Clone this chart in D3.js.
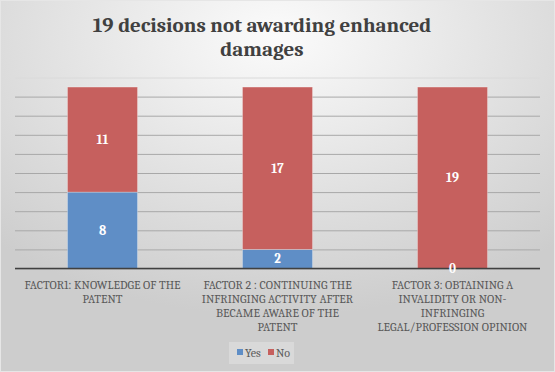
<!DOCTYPE html>
<html>
<head>
<meta charset="utf-8">
<script src="https://cdn.jsdelivr.net/npm/d3@7"></script>
<style>
  body { margin: 0; }
  svg { display: block; }
</style>
</head>
<body>
<div id="chart"></div>
<script>
// chart data
var categories = ["FACTOR1: KNOWLEDGE OF THE\nPATENT",
  "FACTOR 2 : CONTINUING THE\nINFRINGING ACTIVITY AFTER\nBECAME AWARE OF THE\nPATENT",
  "FACTOR 3: OBTAINING A\nINVALIDITY OR NON-\nINFRINGING\nLEGAL/PROFESSION OPINION"];
var yesValues = [8, 2, 0];
var noValues = [11, 17, 19];
var seriesNames = ["Yes", "No"];
var yTicks = [0, 2, 4, 6, 8, 10, 12, 14, 16, 18, 20];
var title = ["19 decisions not awarding enhanced", "damages"];

var W = 555, H = 372;
var svg = d3.select("#chart").append("svg").attr("width", W).attr("height", H);

var defs = svg.append("defs");
var grad = defs.append("radialGradient").attr("id", "bg")
  .attr("cx", "50%").attr("cy", "10%").attr("r", "75%");
grad.append("stop").attr("offset", "0%").attr("stop-color", "#fbfbfb");
grad.append("stop").attr("offset", "100%").attr("stop-color", "#cdcdcd");
svg.append("rect").attr("width", W).attr("height", H).attr("fill", "url(#bg)");
svg.append("rect").attr("x", 0.5).attr("y", 0.5).attr("width", W - 1).attr("height", H - 1)
  .attr("fill", "none").attr("stroke", "#e6e6e6");

var serif = "Cambria, 'Liberation Serif', 'DejaVu Serif', serif";

svg.append("g").selectAll("text").data(title).enter().append("text")
  .attr("x", 262).attr("y", (d, i) => 32 + i * 24)
  .attr("text-anchor", "middle")
  .style("font-family", serif).style("font-weight", "bold").style("font-size", "21px")
  .style("fill", "#404040").text(d => d);

var plotL = 15, plotR = 540, plotT = 77.5, plotB = 268.5;
var x = d3.scaleBand().domain(d3.range(categories.length)).range([plotL, plotR]).paddingInner(0.6).paddingOuter(0.3);
var y = d3.scaleLinear().domain([0, 20]).range([plotB, plotT]);

// gridlines
var yAxis = d3.axisLeft(y).tickValues(yTicks).tickSize(-(plotR - plotL)).tickFormat("");
var gy = svg.append("g").attr("transform", "translate(" + plotL + ",0)").call(yAxis);
gy.select(".domain").remove();
gy.selectAll("line").attr("stroke", (d) => d === 20 ? "#dadada" : "#a8a8a8").attr("stroke-width", 1);

// stacked bars
var stackData = categories.map((c, i) => ({ i: i, Yes: yesValues[i], No: noValues[i] }));
var stack = d3.stack().keys(seriesNames)(stackData);
var colors = { Yes: "#5f8ec6", No: "#c6605e" };

var layers = svg.append("g").selectAll("g").data(stack).enter().append("g")
  .attr("fill", d => colors[d.key]);
layers.selectAll("rect").data(d => d).enter().append("rect")
  .attr("x", d => x(d.data.i))
  .attr("y", d => y(d[1]))
  .attr("width", x.bandwidth())
  .attr("height", d => y(d[0]) - y(d[1]))
  .attr("stroke", "rgba(255,255,255,0.35)").attr("stroke-width", 0.8);

// x axis
var xAxis = d3.axisBottom(x).tickSize(0).tickFormat("");
var gx = svg.append("g").attr("transform", "translate(0," + plotB + ")").call(xAxis);
gx.select(".domain").attr("stroke", "#404040").attr("stroke-width", 1.6).attr("d", "M" + plotL + ",0H" + plotR);

// data labels
var lbl = svg.append("g").selectAll("g").data(stack).enter().append("g");
lbl.selectAll("text").data(d => d).enter().append("text")
  .attr("x", d => x(d.data.i) + x.bandwidth() / 2)
  .attr("y", d => (y(d[0]) + y(d[1])) / 2 + 4.5)
  .attr("text-anchor", "middle")
  .style("font-family", serif).style("font-weight", "bold").style("font-size", "13px")
  .style("fill", "#ffffff")
  .text(d => d[1] - d[0]);

var labels = svg.append("g").selectAll("text").data(categories).enter().append("text")
  .attr("text-anchor", "middle")
  .style("font-family", serif).style("font-size", "12px").style("fill", "#595959");
labels.each(function(d, i) {
  var t = d3.select(this);
  d.split("\n").forEach((line, k) => {
    t.append("tspan").attr("x", x(i) + x.bandwidth() / 2).attr("y", 289 + k * 14).text(line);
  });
});

// legend
var lg = svg.append("g");
lg.append("rect").attr("x", 229).attr("y", 342).attr("width", 65).attr("height", 22)
  .attr("fill", "#ffffff").attr("opacity", 0.25);
seriesNames.forEach((s, i) => {
  var lx = 237 + i * 31;
  lg.append("rect").attr("x", lx).attr("y", 349).attr("width", 6).attr("height", 6).attr("fill", colors[s]);
  lg.append("text").attr("x", lx + 8).attr("y", 357)
    .style("font-family", serif).style("font-size", "12px").style("fill", "#595959").text(s);
});
</script>
</body>
</html>
